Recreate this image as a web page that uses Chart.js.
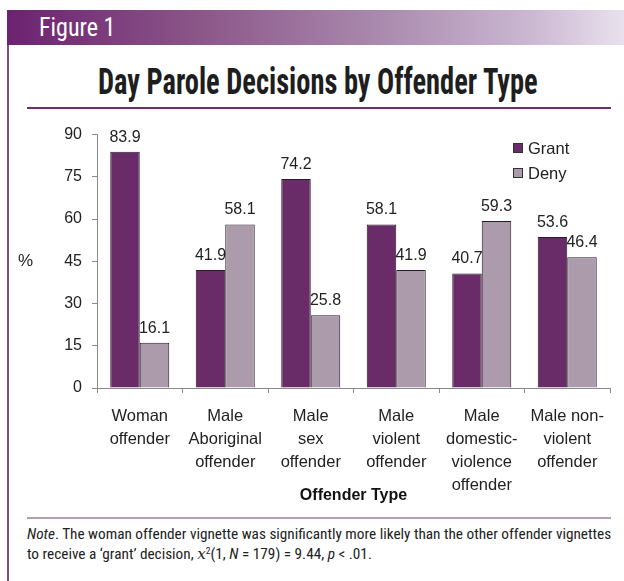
<!DOCTYPE html>
<html>
<head>
<meta charset="utf-8">
<script src="https://cdn.jsdelivr.net/npm/chart.js@4"></script>
<style>
  html, body { margin: 0; padding: 0; background: #fff; }
  #page { position: relative; width: 624px; height: 581px; overflow: hidden; background: #fff; }
  .narrow { font-family: "Roboto Condensed", "DejaVu Sans Condensed", sans-serif; white-space: nowrap; transform-origin: 0 50%; display: inline-block; }
  #band { position: absolute; left: 7px; top: 10px; width: 617px; height: 35px;
    background: linear-gradient(to right, #6c2270 0%, #8a5487 30%, #a989ad 60%, #cbb8d2 85%, #e9e1ed 100%); }
  #figlab { position: absolute; left: 32px; top: 3px; font-size: 25px; color: #fff; line-height: 30px; }
  #lborder { position: absolute; left: 7px; top: 45px; width: 2px; height: 536px; background: #7e4f7e; }
  #title { position: absolute; left: 98px; top: 60px; font-size: 36px; font-weight: bold; color: #1e1e1e; line-height: 44px; }
  #rule1 { position: absolute; left: 27px; top: 107px; width: 584px; height: 2px; background: #6e2c6e; }
  #rule2 { position: absolute; left: 27px; top: 517px; width: 584px; height: 2px; background: #b79cb6; }
  .note { position: absolute; left: 27px; font-size: 14.5px; color: #222; line-height: 18px; }
  .note sup { font-size: 9px; line-height: 0; vertical-align: 5px; }
  #wrap { position: absolute; left: 10px; top: 115px; width: 610px; height: 395px; }
  #pct { position: absolute; left: 18px; top: 251px; font: 17px "Liberation Sans", Arial, sans-serif; color: #222; }
  .leg { position: absolute; left: 513px; font: 16.5px "Liberation Sans", Arial, sans-serif; color: #222; line-height: 20px; }
  .leg span { display: inline-block; width: 8px; height: 8px; border: 1px solid #333; margin-right: 5px; vertical-align: 1px; }
</style>
</head>
<body>
<div id="page">
  <div id="band"><div id="figlab" class="narrow" data-w="76">Figure 1</div></div>
  <div id="lborder"></div>
  <div id="title" class="narrow" data-w="440">Day Parole Decisions by Offender Type</div>
  <div id="rule1"></div>
  <div id="wrap"><canvas id="chart"></canvas></div>
  <div id="pct">%</div>
  <div class="leg" style="top:138px"><span style="background:#6a2b69"></span>Grant</div>
  <div class="leg" style="top:163px"><span style="background:#ab9bab"></span>Deny</div>
  <div id="rule2"></div>
  <div class="note narrow" id="note1" style="top:526px" data-w="584"><i>Note</i>. The woman offender vignette was significantly more likely than the other offender vignettes</div>
  <div class="note narrow" id="note2" style="top:545px">to receive a ‘grant’ decision, <span style="font-family:'DejaVu Serif',serif;font-style:italic">x</span><sup>2</sup>(1, <i>N</i> = 179) = 9.44, <i>p</i> &lt; .01.</div>
</div>
<script>
const categories = [
  ['Woman', 'offender'],
  ['Male', 'Aboriginal', 'offender'],
  ['Male', 'sex', 'offender'],
  ['Male', 'violent', 'offender'],
  ['Male', 'domestic-', 'violence', 'offender'],
  ['Male non-', 'violent', 'offender'],
];
const grantValues = [83.9, 41.9, 74.2, 58.1, 40.7, 53.6];
const denyValues  = [16.1, 58.1, 25.8, 41.9, 59.3, 46.4];
const yMin = 0, yMax = 90, yStep = 15;

const FONT = '"Liberation Sans", Arial, sans-serif';
const INK = '#222';
const AXIS = '#8a8a8a';

// squeeze narrow text so it spans the same width as the original
document.querySelectorAll('.narrow[data-w]').forEach(el => {
  const s = +el.dataset.w / el.offsetWidth;
  el.style.transform = `scaleX(${s})`;
  if (el.id === 'note1') document.getElementById('note2').style.transform = `scaleX(${s})`;
});

const barLabels = {
  id: 'barLabels',
  afterDatasetsDraw(chart) {
    const ctx = chart.ctx;
    ctx.save();
    ctx.font = '16px ' + FONT;
    ctx.fillStyle = INK;
    ctx.textAlign = 'center';
    ctx.textBaseline = 'alphabetic';
    chart.data.datasets.forEach((ds, i) => {
      chart.getDatasetMeta(i).data.forEach((bar, j) => {
        ctx.fillText(ds.data[j].toFixed(1), bar.x, bar.y - 10);
      });
    });
    ctx.restore();
  }
};

new Chart(document.getElementById('chart'), {
  type: 'bar',
  data: {
    labels: categories,
    datasets: [
      { label: 'Grant', data: grantValues, backgroundColor: '#6a2b69', borderColor: '#2a1a2a', borderWidth: 1,
        categoryPercentage: 0.69, barPercentage: 1 },
      { label: 'Deny', data: denyValues, backgroundColor: '#ab9bab', borderColor: '#2a1a2a', borderWidth: 1,
        categoryPercentage: 0.69, barPercentage: 1 },
    ]
  },
  options: {
    responsive: true, maintainAspectRatio: false, animation: false,
    layout: { padding: { left: 0, right: 10, top: 18, bottom: 1 } },
    plugins: { legend: { display: false }, tooltip: { enabled: false } },
    scales: {
      x: {
        grid: { offset: true, drawOnChartArea: false, tickLength: 5, color: AXIS },
        border: { color: AXIS },
        ticks: { color: INK, font: { size: 16.5, family: FONT, lineHeight: 1.4 }, padding: 12, maxRotation: 0, autoSkip: false },
        title: { display: true, text: 'Offender Type', color: '#111', font: { size: 16, weight: 'bold', family: FONT }, padding: { top: 4, bottom: 4 } },
        afterFit: s => { s.height = 121; }
      },
      y: {
        min: yMin, max: yMax,
        grid: { drawOnChartArea: false, tickLength: 5, color: AXIS },
        border: { color: AXIS },
        ticks: { stepSize: yStep, color: INK, font: { size: 16, family: FONT }, padding: 10 },
        afterFit: s => { s.width = 87; }
      }
    }
  },
  plugins: [barLabels]
});
</script>
</body>
</html>
